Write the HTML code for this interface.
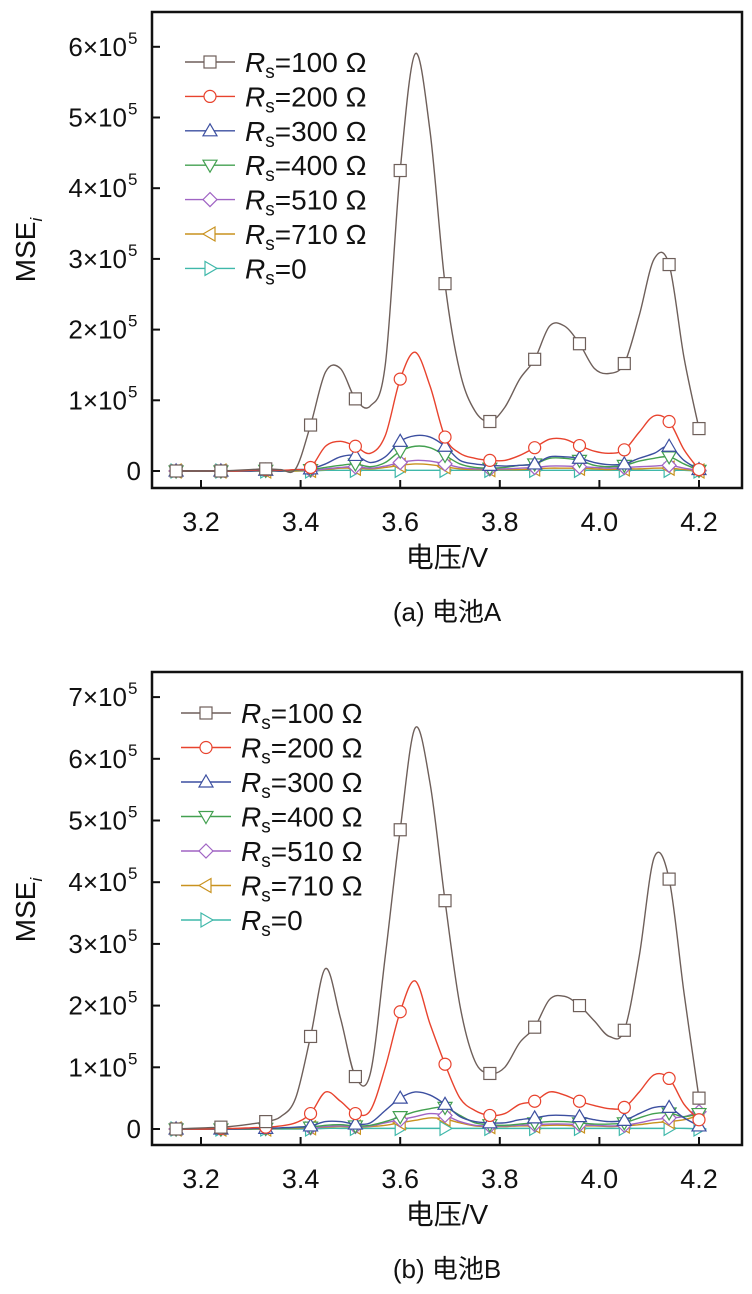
<!DOCTYPE html>
<html><head><meta charset="utf-8"><style>
body{margin:0;background:#fff;width:752px;height:1294px;overflow:hidden}
svg{display:block;font-family:"Liberation Sans","Noto Sans CJK SC",sans-serif}
</style></head><body>
<svg id="chart" width="752" height="1294" viewBox="0 0 752 1294" xmlns="http://www.w3.org/2000/svg"></svg>
<script>
const volts=[3.15,3.18,3.21,3.24,3.27,3.30,3.33,3.36,3.39,3.42,3.45,3.48,3.51,3.54,3.57,3.60,3.63,3.66,3.69,3.72,3.75,3.78,3.81,3.84,3.87,3.90,3.93,3.96,3.99,4.02,4.05,4.08,4.11,4.14,4.17,4.20];
const seriesNames=["R100","R200","R300","R400","R510","R710","R0"];
const legendValues=["=100 Ω","=200 Ω","=300 Ω","=400 Ω","=510 Ω","=710 Ω","=0"];
const xTicks=[3.2,3.4,3.6,3.8,4.0,4.2];
const yTicksA=[0,1,2,3,4,5,6];
const yTicksB=[0,1,2,3,4,5,6,7];
// Battery A (units of 1e5)
const a100=[0,0,0,0,0.01,0.02,0.03,0.02,0.03,0.65,1.40,1.45,1.02,0.92,1.50,4.25,5.90,4.80,2.65,1.40,0.85,0.70,0.90,1.30,1.58,2.05,2.05,1.80,1.45,1.38,1.52,2.20,3.00,2.92,1.60,0.60];
const a200=[0,0,0,0,0,0.01,0.02,0.01,0.02,0.05,0.35,0.42,0.35,0.25,0.50,1.30,1.68,1.20,0.48,0.25,0.18,0.15,0.15,0.22,0.33,0.45,0.45,0.36,0.28,0.25,0.30,0.55,0.78,0.70,0.30,0.02];
const a300=[0,0,0,0,0,0,0.01,0,0.02,0.03,0.10,0.20,0.22,0.12,0.20,0.42,0.50,0.48,0.35,0.15,0.10,0.08,0.07,0.08,0.10,0.20,0.20,0.18,0.12,0.09,0.10,0.18,0.25,0.35,0.15,0.02];
const a400=[0,0,0,0,0,0,0.01,0,0.01,0.02,0.05,0.08,0.10,0.06,0.12,0.28,0.35,0.33,0.22,0.10,0.05,0.04,0.05,0.08,0.10,0.18,0.18,0.15,0.08,0.06,0.08,0.14,0.18,0.20,0.10,0.01];
const a510=[0,0,0,0,0,0,0.01,0,0.01,0.01,0.03,0.05,0.06,0.04,0.07,0.12,0.15,0.14,0.10,0.05,0.03,0.03,0.03,0.04,0.05,0.07,0.07,0.06,0.05,0.04,0.05,0.06,0.07,0.08,0.04,0.01];
const a710=[0,0,0,0,0,0,0,0,0,0.01,0.02,0.04,0.04,0.03,0.05,0.08,0.10,0.09,0.06,0.03,0.02,0.02,0.02,0.02,0.03,0.04,0.04,0.04,0.03,0.02,0.03,0.03,0.04,0.04,0.02,0];
const a0=[0,0,0,0,0,0,0,0,0,0,0.01,0.01,0.01,0.01,0.01,0.01,0.01,0.01,0.01,0.01,0.01,0.01,0.01,0.01,0.01,0.01,0.01,0.01,0.01,0.01,0.01,0.01,0.01,0.01,0.01,0];
// Battery B (units of 1e5)
const b100=[0,0.01,0.02,0.03,0.05,0.08,0.12,0.20,0.50,1.50,2.60,1.80,0.85,0.90,2.80,4.85,6.50,5.60,3.70,2.00,1.10,0.90,1.00,1.40,1.65,2.10,2.15,2.00,1.75,1.50,1.60,2.80,4.40,4.05,2.20,0.50];
const b200=[0,0,0,0.01,0.01,0.02,0.03,0.05,0.10,0.25,0.60,0.45,0.25,0.30,1.00,1.90,2.40,1.70,1.05,0.50,0.30,0.22,0.25,0.40,0.45,0.60,0.55,0.45,0.38,0.33,0.35,0.60,0.88,0.82,0.40,0.15];
const b300=[0,0,0,0,0,0.01,0.01,0.02,0.03,0.05,0.12,0.12,0.08,0.10,0.30,0.50,0.60,0.55,0.40,0.20,0.12,0.10,0.10,0.15,0.18,0.22,0.22,0.20,0.15,0.12,0.14,0.25,0.35,0.35,0.18,0.05];
const b400=[0,0,0,0,0,0,0.01,0.01,0.02,0.03,0.06,0.07,0.05,0.06,0.12,0.20,0.28,0.33,0.35,0.22,0.10,0.07,0.06,0.08,0.10,0.12,0.12,0.10,0.08,0.08,0.10,0.18,0.25,0.26,0.20,0.25];
const b510=[0,0,0,0,0,0,0.01,0.01,0.02,0.02,0.04,0.05,0.04,0.05,0.10,0.15,0.20,0.25,0.22,0.12,0.06,0.05,0.05,0.06,0.07,0.08,0.08,0.07,0.06,0.05,0.06,0.10,0.15,0.18,0.20,0.28];
const b710=[0,0,0,0,0,0,0,0.01,0.01,0.02,0.03,0.04,0.03,0.04,0.06,0.10,0.14,0.18,0.16,0.10,0.05,0.04,0.04,0.05,0.05,0.06,0.06,0.05,0.05,0.04,0.05,0.07,0.10,0.12,0.15,0.22];
const b0=[0,0,0,0,0,0,0,0,0,0,0.01,0.01,0.01,0.01,0.01,0.01,0.01,0.01,0.01,0.01,0.01,0.01,0.01,0.01,0.01,0.01,0.01,0.01,0.01,0.01,0.01,0.01,0.01,0.01,0.01,0];
const colors=["#6e5f5a","#e8432e","#3c4fa0","#43a050","#a064c4","#c9921f","#3fb8aa"];
const markers=["square","circle","up","down","diamond","left","right"];
const NS="http://www.w3.org/2000/svg";
const svg=document.getElementById("chart");
function mk(tag,attrs,parent){const e=document.createElementNS(NS,tag);for(const k in attrs)e.setAttribute(k,attrs[k]);(parent||svg).appendChild(e);return e;}
function markerEl(type,cx,cy,color,g){
  const r=6;let e;
  if(type==="square")e=mk("rect",{x:cx-r,y:cy-r,width:2*r,height:2*r},g);
  else if(type==="circle")e=mk("circle",{cx:cx,cy:cy,r:r},g);
  else{let p;
    if(type==="up")p=[[cx,cy-r-1],[cx+r+1,cy+r-1],[cx-r-1,cy+r-1]];
    else if(type==="down")p=[[cx,cy+r+1],[cx+r+1,cy-r+1],[cx-r-1,cy-r+1]];
    else if(type==="diamond")p=[[cx,cy-r-1],[cx+r+1,cy],[cx,cy+r+1],[cx-r-1,cy]];
    else if(type==="left")p=[[cx-r-1,cy],[cx+r-1,cy-r-1],[cx+r-1,cy+r+1]];
    else p=[[cx+r+1,cy],[cx-r+1,cy-r-1],[cx-r+1,cy+r+1]];
    e=mk("polygon",{points:p.map(q=>q.join(",")).join(" ")},g);}
  e.setAttribute("fill","#fff");e.setAttribute("stroke",color);e.setAttribute("stroke-width","1.2");
  return e;
}
function smoothPath(pts){
  let d="M"+pts[0][0]+","+pts[0][1];
  for(let i=0;i<pts.length-1;i++){
    const p0=pts[Math.max(0,i-1)],p1=pts[i],p2=pts[i+1],p3=pts[Math.min(pts.length-1,i+2)];
    const c1=[p1[0]+(p2[0]-p0[0])/6,p1[1]+(p2[1]-p0[1])/6];
    const c2=[p2[0]-(p3[0]-p1[0])/6,p2[1]-(p3[1]-p1[1])/6];
    d+=" C"+c1.join(",")+" "+c2.join(",")+" "+p2.join(",");
  }
  return d;
}
function panel(id,cfg,data){
  const g=mk("g",{});
  
  
  const L=152,R=742,T=cfg.top,B=cfg.bottom;
  const xs=v=>201+(v-3.2)*498;
  const ys=v=>cfg.y0-v*cfg.perUnit;
  for(let s=data.length-1;s>=0;s--){
    const sg=mk("g",{},g);
    
    
    const pts=volts.map((v,i)=>[xs(v),ys(data[s][i])]);
    const p=mk("path",{d:smoothPath(pts),fill:"none",stroke:colors[s],"stroke-width":"1.4"},sg);
    
    
    volts.forEach((v,i)=>{
      if(i%3===0||i===volts.length-1){
        const m=markerEl(markers[s],xs(v),ys(data[s][i]),colors[s],sg);
        
        
      }
    });
  }
  const fr=mk("rect",{x:L,y:T,width:R-L,height:B-T,fill:"none",stroke:"#111","stroke-width":"2.5"},g);
  
  
  xTicks.forEach(v=>{
    mk("line",{x1:xs(v),x2:xs(v),y1:B,y2:B-8,stroke:"#111","stroke-width":"2"},g);
    const t=mk("text",{x:xs(v),y:B+43,"font-size":"27","text-anchor":"middle",fill:"#111"},g);
    t.textContent=v.toFixed(1);
    
    
  });
  cfg.yTicks.forEach(v=>{
    const y=ys(v);
    mk("line",{x1:L,x2:L+8,y1:y,y2:y,stroke:"#111","stroke-width":"2"},g);
    const t=mk("text",{x:v===0?141:127,y:y+9,"font-size":"26","text-anchor":"end",fill:"#111"},g);
    t.textContent=v===0?"0":v+"×10";
    
    
    if(v!==0){const sup=mk("text",{x:128,y:y-3,"font-size":"17",fill:"#111"},g);sup.textContent="5";}
  });
  const yt=mk("text",{x:0,y:0,"font-size":"28","text-anchor":"middle",fill:"#111",transform:"translate(35,"+cfg.yTitle+") rotate(-90)"},g);
  yt.innerHTML='MSE<tspan font-size="17" font-style="italic" dy="7">i</tspan>';
  
  
  const xt=mk("text",{x:447,y:B+79,"font-size":"28","text-anchor":"middle",fill:"#111"},g);
  xt.textContent="电压/V";
  
  
  const cap=mk("text",{x:447,y:B+133,"font-size":"26","text-anchor":"middle",fill:"#111"},g);
  cap.textContent=cfg.caption;
  
  
  const lg=mk("g",{},g);
  
  
  for(let s=0;s<7;s++){
    const y=cfg.legY+s*cfg.legStep;
    const eg=mk("g",{},lg);
    
    
    mk("line",{x1:cfg.legX,x2:cfg.legX+50,y1:y,y2:y,stroke:colors[s],"stroke-width":"1.4"},eg);
    markerEl(markers[s],cfg.legX+25,y,colors[s],eg);
    const t=mk("text",{x:cfg.legX+60,y:y+10,"font-size":"28",fill:"#111"},eg);
    t.innerHTML='<tspan font-style="italic">R</tspan><tspan font-size="19" dy="6">s</tspan><tspan dy="-6">'+legendValues[s]+'</tspan>';
  }
}
panel("battery-a",{top:12,bottom:488,y0:471,perUnit:70.7,yTicks:yTicksA,yTitle:250,caption:"(a) 电池A",legX:185,legY:62,legStep:34.4},[a100,a200,a300,a400,a510,a710,a0]);
panel("battery-b",{top:672,bottom:1145,y0:1129,perUnit:61.7,yTicks:yTicksB,yTitle:910,caption:"(b) 电池B",legX:181,legY:713,legStep:34.5},[b100,b200,b300,b400,b510,b710,b0]);
</script>
</body></html>
